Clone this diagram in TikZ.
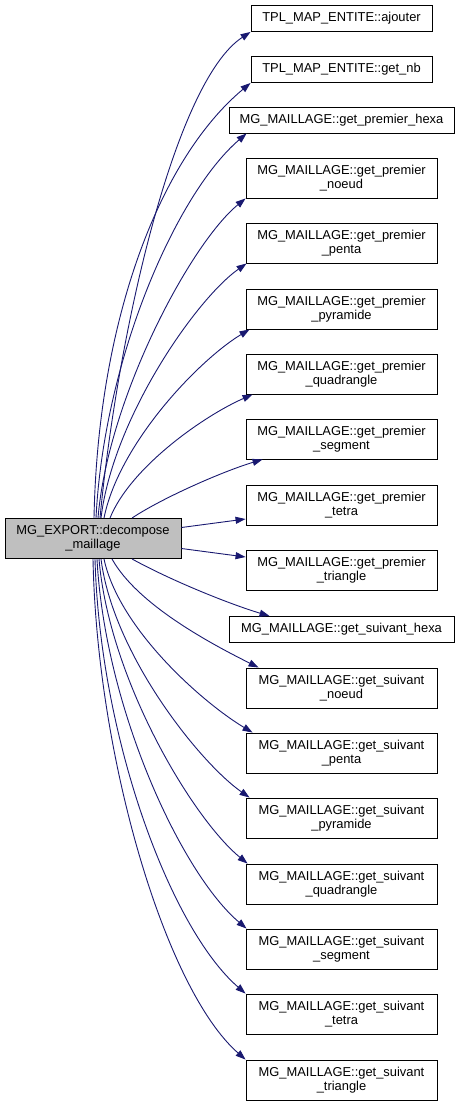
\documentclass[tikz,border=0pt]{standalone}
\usepackage{fontspec}
\setmainfont{Liberation Sans}
\usepackage{xcolor}
\definecolor{cgnavy}{RGB}{25,25,112}
\definecolor{cggray}{RGB}{191,191,191}
\usetikzlibrary{arrows.meta}

\begin{document}
\begin{tikzpicture}[x=1pt,y=-1pt,
  cgbox/.style={draw=black,line width=0.9pt,fill=white,minimum width=191pt,minimum height=40pt,
    inner sep=2pt,align=center,font=\fontsize{12.9}{14}\selectfont},
  cgone/.style={cgbox,minimum height=26pt},
  cgarrow/.style={-{Triangle[length=10pt,width=7pt]},line width=0.9pt,cgnavy}
]
  \useasboundingbox (0,0) rectangle (460,1106);
  % Caller
  \node[cgbox,fill=cggray,minimum width=176pt] (exp) at (93,538.5) {MG\_EXPORT::decompose\\\_maillage};
  % Callees
  \node[cgone,minimum width=181pt] (tpl1) at (341.5,18.5) {TPL\_MAP\_ENTITE::ajouter};
  \node[cgone,minimum width=181pt] (tpl2) at (341.5,69.5) {TPL\_MAP\_ENTITE::get\_nb};
  \node[cgone,minimum width=225pt] (pr1) at (341.5,120) {MG\_MAILLAGE::get\_premier\_hexa};
  \node[cgbox] (pr2) at (341.5,178) {MG\_MAILLAGE::get\_premier\\\_noeud};
  \node[cgbox] (pr3) at (341.5,243) {MG\_MAILLAGE::get\_premier\\\_penta};
  \node[cgbox] (pr4) at (341.5,309) {MG\_MAILLAGE::get\_premier\\\_pyramide};
  \node[cgbox] (pr5) at (341.5,374) {MG\_MAILLAGE::get\_premier\\\_quadrangle};
  \node[cgbox] (pr6) at (341.5,439) {MG\_MAILLAGE::get\_premier\\\_segment};
  \node[cgbox] (pr7) at (341.5,505) {MG\_MAILLAGE::get\_premier\\\_tetra};
  \node[cgbox] (pr8) at (341.5,570) {MG\_MAILLAGE::get\_premier\\\_triangle};
  \node[cgone,minimum width=225pt] (sv1) at (341.5,629.5) {MG\_MAILLAGE::get\_suivant\_hexa};
  \node[cgbox] (sv2) at (341.5,688) {MG\_MAILLAGE::get\_suivant\\\_noeud};
  \node[cgbox] (sv3) at (341.5,753) {MG\_MAILLAGE::get\_suivant\\\_penta};
  \node[cgbox] (sv4) at (341.5,818) {MG\_MAILLAGE::get\_suivant\\\_pyramide};
  \node[cgbox] (sv5) at (341.5,884) {MG\_MAILLAGE::get\_suivant\\\_quadrangle};
  \node[cgbox] (sv6) at (341.5,949) {MG\_MAILLAGE::get\_suivant\\\_segment};
  \node[cgbox] (sv7) at (341.5,1014) {MG\_MAILLAGE::get\_suivant\\\_tetra};
  \node[cgbox] (sv8) at (341.5,1080) {MG\_MAILLAGE::get\_suivant\\\_triangle};
  % Calls going up
  \draw[cgarrow] ([xshift=7pt]exp.north) .. controls +(18,-189) and +(-75,49) .. (tpl1.south west);
  \draw[cgarrow] ([xshift=1pt]exp.north) .. controls +(4,-200) and +(-90,75) .. (tpl2.south west);
  \draw[cgarrow] ([xshift=3pt]exp.north) .. controls +(8,-160) and +(-70,60) .. ([xshift=18pt]pr1.south west);
  \draw[cgarrow] ([xshift=5pt]exp.north) .. controls +(10,-120) and +(-55,45) .. (pr2.south west);
  \draw[cgarrow] ([xshift=8pt]exp.north) .. controls +(12,-100) and +(-50,35) .. ([xshift=1pt]pr3.south west);
  \draw[cgarrow] ([xshift=11pt]exp.north) .. controls +(15,-75) and +(-50,30) .. ([xshift=4pt]pr4.south west);
  \draw[cgarrow] ([xshift=17pt]exp.north) .. controls +(20,-50) and +(-50,22) .. ([xshift=7pt]pr5.south west);
  \draw[cgarrow] ([xshift=39pt]exp.north) .. controls +(30,-20) and +(-40,12) .. ([xshift=17pt]pr6.south west);
  % Calls to the side
  \draw[cgarrow] ([yshift=11pt]exp.east) -- ([yshift=-14pt]pr7.west);
  \draw[cgarrow] ([yshift=-10pt]exp.east) -- ([yshift=13pt]pr8.west);
  % Calls going down
  \draw[cgarrow] ([xshift=39pt]exp.south) .. controls +(40,22) and +(-40,-12) .. ([xshift=41pt]sv1.north west);
  \draw[cgarrow] ([xshift=19pt]exp.south) .. controls +(25,45) and +(-50,-25) .. ([xshift=13pt]sv2.north west);
  \draw[cgarrow] ([xshift=11pt]exp.south) .. controls +(15,70) and +(-50,-30) .. ([xshift=7pt]sv3.north west);
  \draw[cgarrow] ([xshift=8pt]exp.south) .. controls +(12,95) and +(-50,-35) .. ([xshift=4pt]sv4.north west);
  \draw[cgarrow] ([xshift=6pt]exp.south) .. controls +(10,120) and +(-55,-45) .. ([xshift=2pt]sv5.north west);
  \draw[cgarrow] ([xshift=4pt]exp.south) .. controls +(8,150) and +(-65,-55) .. ([xshift=1pt]sv6.north west);
  \draw[cgarrow] ([xshift=2pt]exp.south) .. controls +(5,180) and +(-75,-65) .. (sv7.north west);
  \draw[cgarrow] (exp.south) .. controls +(4,200) and +(-80,-70) .. (sv8.north west);
\end{tikzpicture}
\end{document}
